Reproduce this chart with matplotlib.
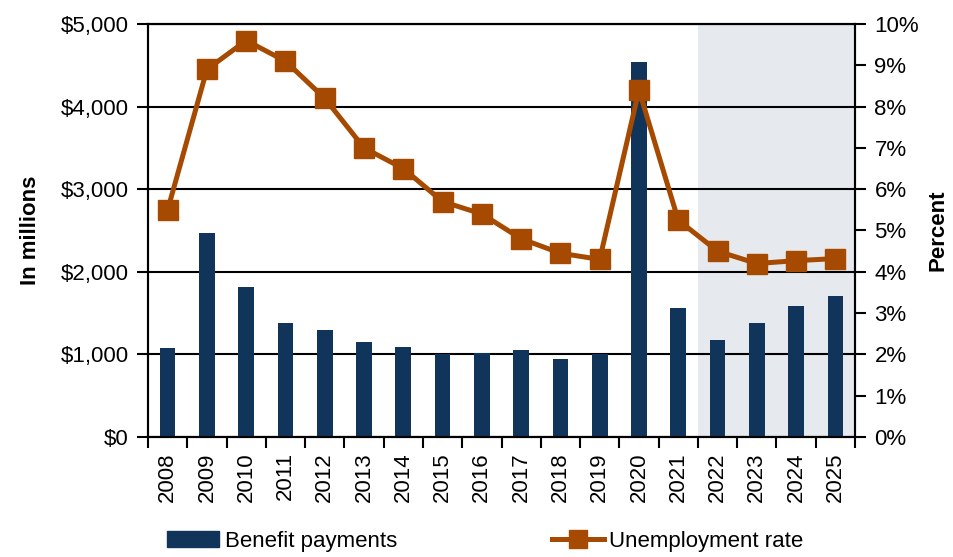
import matplotlib
matplotlib.use("Agg")
import matplotlib.pyplot as plt
from matplotlib.ticker import FuncFormatter, MultipleLocator
from matplotlib.lines import Line2D
from matplotlib.patches import Patch
import numpy as np

years = ["2008", "2009", "2010", "2011", "2012", "2013", "2014", "2015", "2016",
         "2017", "2018", "2019", "2020", "2021", "2022", "2023", "2024", "2025"]
benefit_payments = [1080, 2470, 1820, 1385, 1295, 1150, 1095, 1010, 1020,
                    1058, 950, 1010, 4540, 1558, 1172, 1380, 1586, 1703]
unemployment_rate = [5.5, 8.9, 9.6, 9.1, 8.2, 7.0, 6.5, 5.7, 5.4,
                     4.8, 4.45, 4.3, 8.4, 5.25, 4.5, 4.2, 4.27, 4.32]
forecast_start = "2022"

bar_color = "#10345A"
line_color = "#A54A00"
shade_color = "#E6EAEE"

plt.rcParams['font.family'] = ['Liberation Sans Narrow', 'Liberation Sans', 'DejaVu Sans']
FS = 16

fig = plt.figure(figsize=(9.54, 5.57), dpi=100)
ax = fig.add_axes([148/954, 1-437/557, (855-148)/954, (437-24)/557])
ax2 = ax.twinx()

x = np.arange(len(years))
fi = years.index(forecast_start)
ax.axvspan(fi - 0.5, len(years) - 0.5, color=shade_color, zorder=0, lw=0)

ax.bar(x, benefit_payments, width=0.4, color=bar_color, zorder=3)
ax.set_xlim(-0.5, len(years) - 0.5)
ax.set_ylim(0, 5000)
ax.yaxis.set_major_locator(MultipleLocator(1000))
ax.yaxis.set_major_formatter(FuncFormatter(lambda v, p: "${:,.0f}".format(v)))
ax.grid(axis='y', color='black', lw=1.5, zorder=1)
ax.set_axisbelow(False)
for gl in ax.get_ygridlines():
    gl.set_zorder(1)

ax.set_xticks(x)
ax.set_xticklabels(years, rotation=90, fontsize=FS)
ax.set_xticks(np.arange(-0.5, len(years), 1), minor=True)
ax.tick_params(axis='x', which='major', length=0, pad=11)
ax.tick_params(axis='x', which='minor', length=8, width=1.5, direction='out')
ax.tick_params(axis='y', labelsize=FS, length=8, width=1.5, pad=6)
ax.set_ylabel("In millions", fontsize=FS, fontweight='bold', labelpad=14)

ax2.plot(x, unemployment_rate, color=line_color, lw=3.6, marker='s', markersize=14, zorder=5)
ax2.set_ylim(0, 10)
ax2.yaxis.set_major_locator(MultipleLocator(1))
ax2.yaxis.set_major_formatter(FuncFormatter(lambda v, p: "{:.0f}%".format(v)))
ax2.tick_params(axis='y', labelsize=FS, length=8, width=1.5, pad=6)
ax2.set_ylabel("Percent", fontsize=FS, fontweight='bold', labelpad=6)

for a in (ax, ax2):
    for s in a.spines.values():
        s.set_linewidth(1.5)
        s.set_color('black')
ax.set_zorder(1)
ax2.set_zorder(2)
ax.patch.set_visible(True)
ax2.patch.set_visible(False)

h1 = Patch(facecolor=bar_color, edgecolor=bar_color)
h2 = Line2D([], [], color=line_color, lw=3.6, marker='s', markersize=13)
leg1 = fig.legend([h1], ["Benefit payments"], loc='center left',
                  bbox_to_anchor=(167/954, 1-541/557), frameon=False, fontsize=FS,
                  handlelength=2.35, handletextpad=0.25, borderpad=0, borderaxespad=0)
leg2 = fig.legend([h2], ["Unemployment rate"], loc='center left',
                  bbox_to_anchor=(552/954, 1-541/557), frameon=False, fontsize=FS,
                  handlelength=2.35, handletextpad=0.2, borderpad=0, borderaxespad=0)

fig.savefig("out.png", dpi=100)
